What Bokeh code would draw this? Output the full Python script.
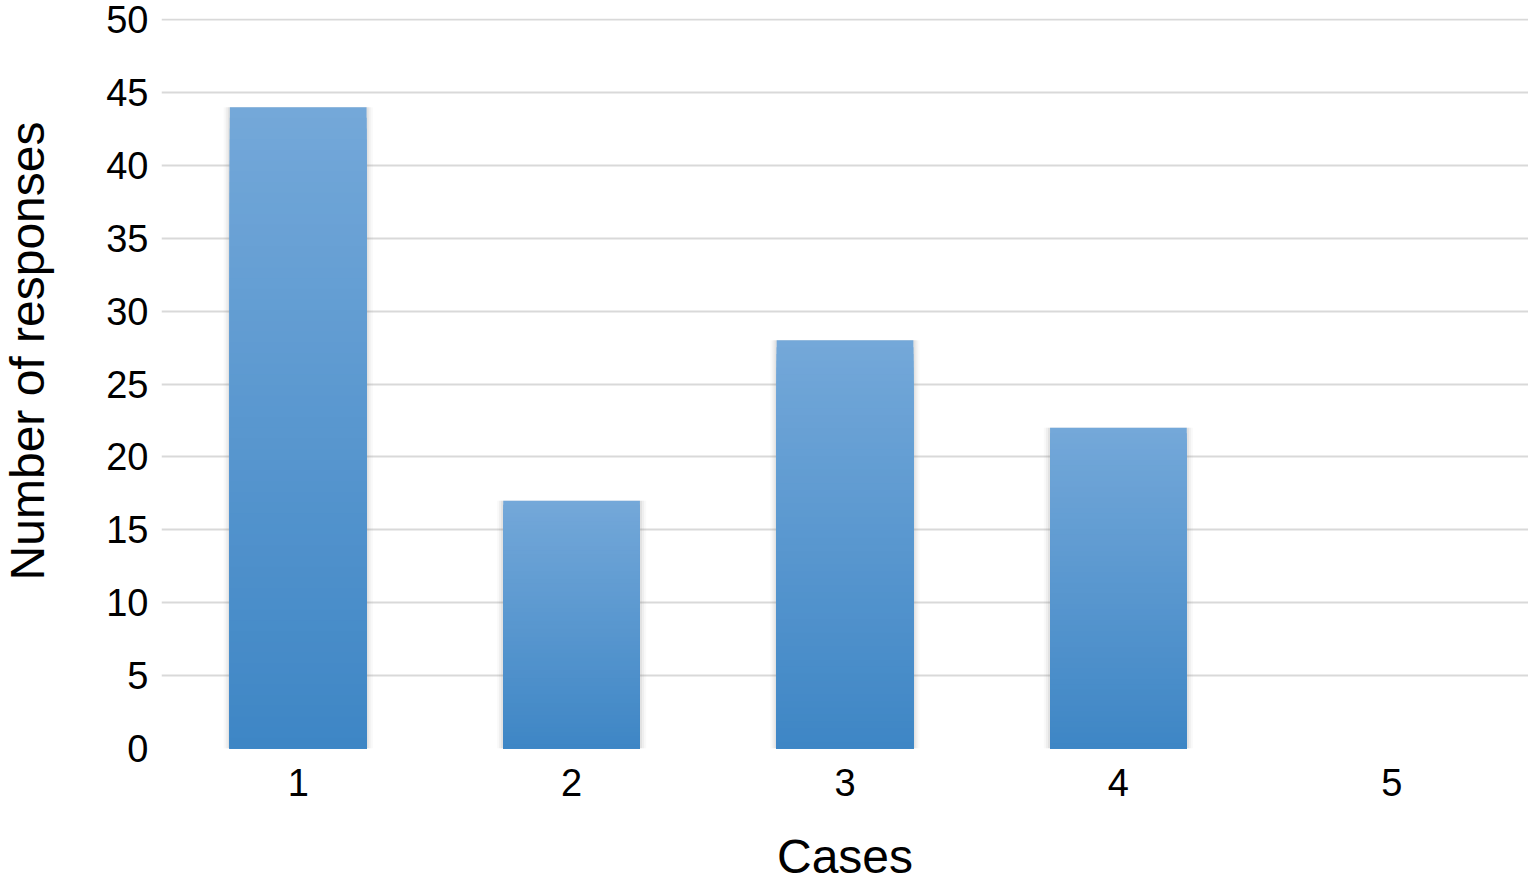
import numpy as np
from bokeh.plotting import figure
from bokeh.models import ColumnDataSource, SingleIntervalTicker, Title, Range1d, FactorRange
from bokeh.embed import file_html
from bokeh.resources import INLINE

# ---- data ----
cases = ["1", "2", "3", "4", "5"]
responses = [44, 17, 28, 22, 0]
y_ticks_interval = 5
y_max = 50

# ---- style ----
FONT = "Liberation Sans"
TOP_COLOR = np.array([116, 168, 217])
BOTTOM_COLOR = np.array([62, 134, 197])
N_SEG = 60

p = figure(
    width=1528, height=885,
    x_range=FactorRange(*cases, range_padding=0),
    y_range=Range1d(0, y_max + 0.08),
    output_backend="svg", toolbar_location=None,
    min_border_left=0, min_border_right=0, min_border_top=18, min_border_bottom=137,
)
p.outline_line_color = None
p.background_fill_color = "white"
p.border_fill_color = "white"

# grid
p.xgrid.grid_line_color = None
p.ygrid.grid_line_color = "#d9d9d9"
p.ygrid.grid_line_width = 2
p.yaxis.ticker = SingleIntervalTicker(interval=y_ticks_interval)

# soft shadow behind bars
shadow_src = ColumnDataSource(dict(x=cases, top=responses))
for w, a in [(0.545, 0.05), (0.53, 0.08), (0.515, 0.12)]:
    p.vbar(x="x", top="top", bottom=0, width=w, source=shadow_src,
           fill_color="#808080", fill_alpha=a, line_color=None)

# gradient bars: overlapping bars, tallest (lightest) first, shortest (darkest) last
xs, tops, colors = [], [], []
for i in range(N_SEG):
    frac = (N_SEG - i) / N_SEG
    t = (N_SEG - i - 0.5) / N_SEG
    col = BOTTOM_COLOR + (TOP_COLOR - BOTTOM_COLOR) * t
    hexcol = "#%02x%02x%02x" % tuple(int(round(k)) for k in col)
    for c, v in zip(cases, responses):
        if v <= 0:
            continue
        xs.append(c)
        tops.append(v * frac)
        colors.append(hexcol)
seg_src = ColumnDataSource(dict(x=xs, top=tops, color=colors))
p.vbar(x="x", bottom=0, top="top", width=0.5, source=seg_src,
       fill_color="color", line_color=None)

# axes
for ax in (p.xaxis, p.yaxis):
    ax.axis_line_color = None
    ax.major_tick_line_color = None
    ax.minor_tick_line_color = None
    ax.major_tick_out = 0
    ax.major_tick_in = 0
    ax.major_label_text_font = FONT
    ax.major_label_text_color = "black"

p.yaxis.major_label_text_font_size = "38px"
p.yaxis.major_label_standoff = 9
p.xaxis.major_label_text_font_size = "38px"
p.xaxis.major_label_standoff = 20

p.xaxis.axis_label = "Cases"
p.xaxis.axis_label_text_font = FONT
p.xaxis.axis_label_text_font_size = "48px"
p.xaxis.axis_label_text_font_style = "normal"
p.xaxis.axis_label_text_color = "black"
p.xaxis.axis_label_standoff = 31

# spacer between tick labels and the y title
spacer = Title(text=" ", standoff=35, text_font_size="10px", text_color="white")
p.add_layout(spacer, "left")

ytitle = Title(text="Number of responses", align="right", offset=103,
               vertical_align="top", standoff=0,
               text_font=FONT, text_font_size="48px", text_font_style="normal",
               text_color="black")
p.add_layout(ytitle, "left")

open("out.html", "w").write(file_html(p, INLINE))
